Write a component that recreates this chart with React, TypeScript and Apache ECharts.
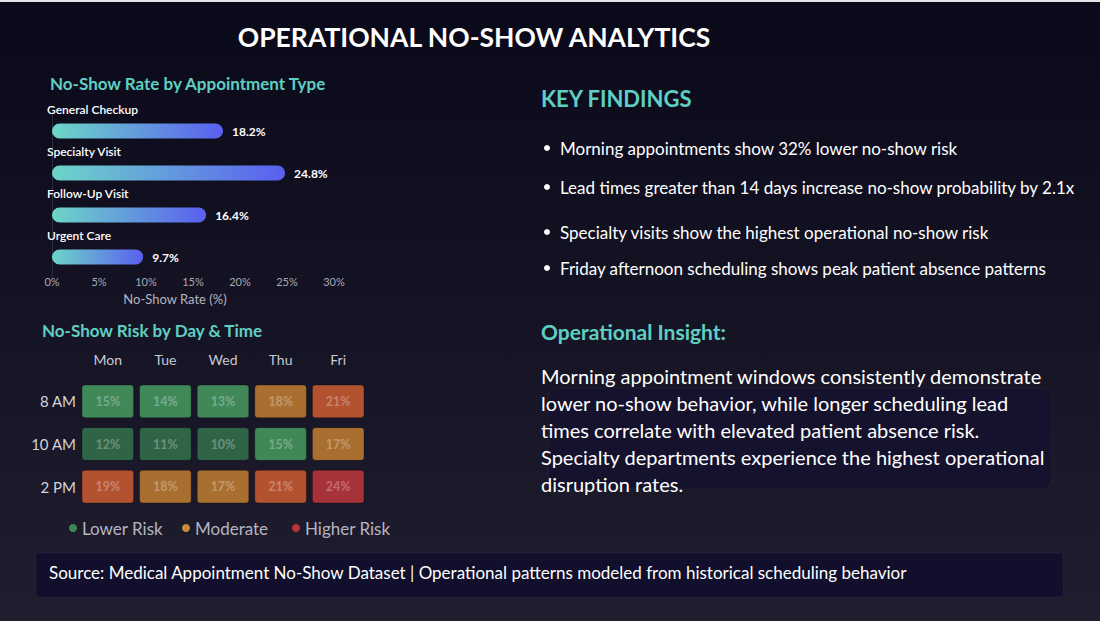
import React, { useEffect, useRef } from "react";
import * as echarts from "echarts";

// Appointment-type no-show rates (%)
const appointmentTypes = ["General Checkup", "Specialty Visit", "Follow-Up Visit", "Urgent Care"];
const noShowRates = [18.2, 24.8, 16.4, 9.7];

// Day / time risk grid (%)
const days = ["Mon", "Tue", "Wed", "Thu", "Fri"];
const timeSlots = ["8 AM", "10 AM", "2 PM"];
const risk8am = [15, 14, 13, 18, 21];
const risk10am = [12, 11, 10, 15, 17];
const risk2pm = [19, 18, 17, 21, 24];

const keyFindings = [
  "Morning appointments show 32% lower no-show risk",
  "Lead times greater than 14 days increase no-show probability by 2.1x",
  "Specialty visits show the highest operational no-show risk",
  "Friday afternoon scheduling shows peak patient absence patterns",
];

const insightLines = [
  "Morning appointment windows consistently demonstrate",
  "lower no-show behavior, while longer scheduling lead",
  "times correlate with elevated patient absence risk.",
  "Specialty departments experience the highest operational",
  "disruption rates.",
];

const FONT = "Lato, 'Noto Sans', sans-serif";
const TEAL = "#5fcfc3";

function riskColor(v: number): string {
  if (v <= 12) return "#2f6546";
  if (v <= 15) return "#418859";
  if (v <= 18) return "#a96f30";
  if (v <= 21) return "#b2522f";
  return "#a8323a";
}

export default function App() {
  const ref = useRef<HTMLDivElement>(null);

  useEffect(() => {
    if (!ref.current) return;
    const chart = echarts.init(ref.current, undefined, { renderer: "svg" });

    const heatData: number[][] = [];
    [risk8am, risk10am, risk2pm].forEach((row, r) =>
      row.forEach((v, d) => heatData.push([d, r, v]))
    );

    const findingY = [148, 187, 232, 268];

    const graphic: any[] = [
      { type: "rect", silent: true, shape: { x: 0, y: 0, width: 1100, height: 2 }, style: { fill: "#e4e4ea" } },
      {
        type: "text", x: 474, y: 37,
        style: { text: "OPERATIONAL NO-SHOW ANALYTICS", fill: "#ffffff", font: `bold 26.5px ${FONT}`, align: "center", verticalAlign: "middle" },
      },
      {
        type: "text", x: 50, y: 83,
        style: { text: "No-Show Rate by Appointment Type", fill: TEAL, font: `bold 17px ${FONT}`, verticalAlign: "middle" },
      },
      {
        type: "text", x: 42, y: 330,
        style: { text: "No-Show Risk by Day & Time", fill: TEAL, font: `bold 17px ${FONT}`, verticalAlign: "middle" },
      },
      {
        type: "text", x: 541, y: 98,
        style: { text: "KEY FINDINGS", fill: TEAL, font: `bold 22px ${FONT}`, verticalAlign: "middle" },
      },
      {
        type: "text", x: 541, y: 331,
        style: { text: "Operational Insight:", fill: TEAL, font: `bold 21px ${FONT}`, verticalAlign: "middle" },
      },
      // insight panel backdrop
      {
        type: "rect", silent: true,
        shape: { x: 548, y: 388, width: 504, height: 101, r: 10 },
        style: { fill: "#15122d", stroke: "rgba(255,255,255,0.05)", lineWidth: 1 },
      },
      // source footer
      {
        type: "rect", silent: true,
        shape: { x: 36, y: 553, width: 1027, height: 44, r: 3 },
        style: { fill: "#110f2b", stroke: "rgba(255,255,255,0.04)", lineWidth: 1 },
      },
      {
        type: "text", x: 49, y: 572,
        style: {
          text: "Source: Medical Appointment No-Show Dataset | Operational patterns modeled from historical scheduling behavior",
          fill: "#ffffff", font: `17px ${FONT}`, verticalAlign: "middle",
        },
      },
    ];

    keyFindings.forEach((t, i) => {
      graphic.push({ type: "circle", shape: { cx: 547, cy: findingY[i], r: 3 }, style: { fill: "#ffffff" } });
      graphic.push({
        type: "text", x: 560, y: findingY[i],
        style: { text: t, fill: "#ffffff", font: `17px ${FONT}`, verticalAlign: "middle" },
      });
    });

    insightLines.forEach((t, i) => {
      graphic.push({
        type: "text", x: 541, y: 376 + i * 27,
        style: { text: t, fill: "#ffffff", font: `20px ${FONT}`, verticalAlign: "middle" },
      });
    });

    // risk legend
    const legendItems = [
      { label: "Lower Risk", color: "#418859", x: 73 },
      { label: "Moderate", color: "#c98a3a", x: 186 },
      { label: "Higher Risk", color: "#b8373b", x: 296 },
    ];
    legendItems.forEach((it) => {
      graphic.push({ type: "circle", shape: { cx: it.x, cy: 528, r: 4 }, style: { fill: it.color } });
      graphic.push({
        type: "text", x: it.x + 9, y: 528,
        style: { text: it.label, fill: "#b4b4c0", font: `17px ${FONT}`, verticalAlign: "middle" },
      });
    });

    const barGradient = new echarts.graphic.LinearGradient(0, 0, 1, 0, [
      { offset: 0, color: "#6dd6c8" },
      { offset: 1, color: "#5a5ff0" },
    ]);

    chart.setOption({
      animation: false,
      backgroundColor: new echarts.graphic.LinearGradient(0, 0, 0, 1, [
        { offset: 0, color: "#0a0919" },
        { offset: 1, color: "#201e2e" },
      ]),
      textStyle: { fontFamily: FONT },
      grid: [
        { left: 52, top: 110, width: 282, height: 168 },
        { left: 79, top: 380, width: 288, height: 128 },
      ],
      xAxis: [
        {
          type: "value", gridIndex: 0, min: 0, max: 30, interval: 5,
          axisLine: { show: false }, axisTick: { show: false }, splitLine: { show: false },
          axisLabel: { formatter: "{value}%", color: "#a8a8b8", fontSize: 11, margin: -2 },
          name: "No-Show Rate (%)", nameLocation: "middle", nameGap: 14,
          nameTextStyle: { color: "#b4b4c2", fontSize: 13, padding: [0, 36, 0, 0] },
        },
        {
          type: "category", gridIndex: 1, data: days, position: "top",
          axisLine: { show: false }, axisTick: { show: false }, splitLine: { show: false },
          axisLabel: { color: "#c8c8d2", fontSize: 14, margin: 14 },
        },
      ],
      yAxis: [
        {
          type: "category", gridIndex: 0, data: appointmentTypes, inverse: true,
          axisLine: { show: true, lineStyle: { color: "#2c2b40" } },
          axisTick: { show: false }, axisLabel: { show: false },
        },
        {
          type: "category", gridIndex: 1, data: timeSlots, inverse: true,
          axisLine: { show: false }, axisTick: { show: false }, splitLine: { show: false },
          axisLabel: { color: "#d2d2da", fontSize: 15, margin: 3 },
        },
      ],
      series: [
        {
          type: "bar", xAxisIndex: 0, yAxisIndex: 0, data: noShowRates, barWidth: 15,
          itemStyle: { color: barGradient, borderRadius: 8 },
          label: {
            show: true, position: "right", distance: 9, formatter: "{c}%",
            color: "#ffffff", fontWeight: "bold", fontSize: 12,
          },
        },
        {
          // category names sitting above each bar
          type: "bar", xAxisIndex: 0, yAxisIndex: 0, data: noShowRates, barWidth: 15, barGap: "-100%",
          itemStyle: { color: "transparent" }, silent: true,
          label: {
            show: true, position: [-5, -20], formatter: "{b}",
            color: "#ffffff", fontWeight: 600, fontSize: 12,
          },
        },
        {
          type: "custom", xAxisIndex: 1, yAxisIndex: 1, data: heatData,
          renderItem: (params: any, api: any) => {
            const v = api.value(2);
            const c = api.coord([api.value(0), api.value(1)]);
            const s = api.size([1, 1]);
            const w = s[0] - 6;
            const h = s[1] - 10;
            return {
              type: "group",
              children: [
                {
                  type: "rect",
                  shape: { x: c[0] - w / 2, y: c[1] - h / 2, width: w, height: h, r: 3 },
                  style: { fill: riskColor(v), stroke: "rgba(0,0,0,0.3)", lineWidth: 1 },
                },
                {
                  type: "text", x: c[0], y: c[1],
                  style: {
                    text: `${v}%`, fill: "rgba(255,255,255,0.3)", font: `bold 12.5px ${FONT}`,
                    align: "center", verticalAlign: "middle",
                  },
                },
              ],
            };
          },
        },
      ],
      graphic,
    });

    return () => chart.dispose();
  }, []);

  return (
    <div
      ref={ref}
      style={{ position: "fixed", left: 0, top: 0, width: 1100, height: 621 }}
    />
  );
}
